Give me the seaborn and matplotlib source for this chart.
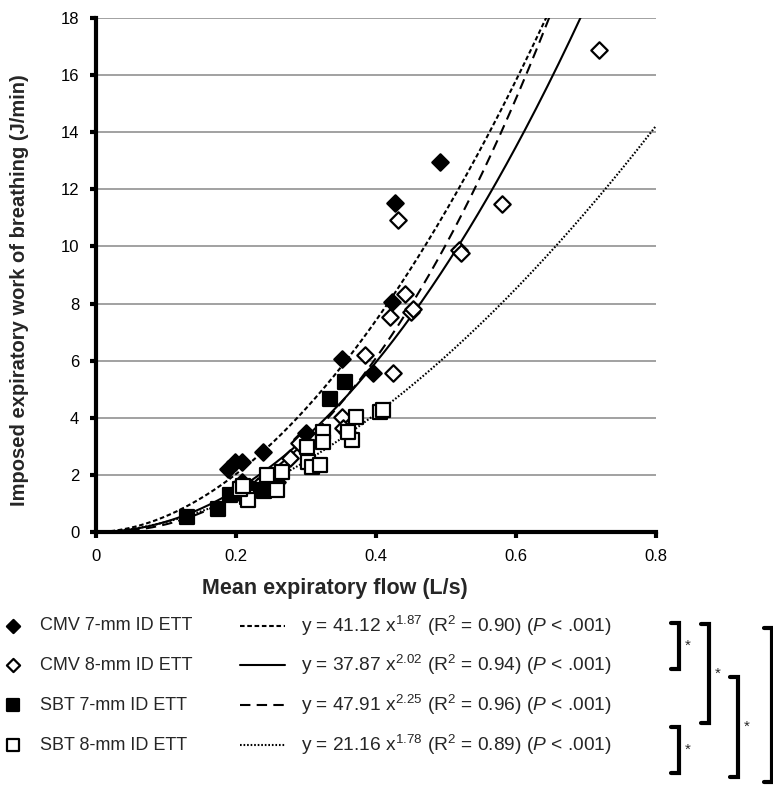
import numpy as np
import pandas as pd
import seaborn as sns
import matplotlib.pyplot as plt

# groups, in legend order
groups = ['CMV 7-mm ID ETT', 'CMV 8-mm ID ETT', 'SBT 7-mm ID ETT', 'SBT 8-mm ID ETT']

# measured points (mean expiratory flow L/s, imposed WOB J/min)
cmv7_x = [0.491, 0.427, 0.423, 0.396, 0.351, 0.300, 0.294, 0.239, 0.209, 0.199, 0.189, 0.209, 0.222, 0.258]
cmv7_y = [12.96, 11.52, 8.05, 5.57, 6.06, 3.45, 3.25, 2.80, 2.45, 2.45, 2.20, 1.75, 1.55, 1.75]

cmv8_x = [0.719, 0.580, 0.431, 0.519, 0.521, 0.441, 0.420, 0.450, 0.453, 0.384, 0.424,
          0.351, 0.353, 0.358, 0.277, 0.290, 0.245, 0.232, 0.205]
cmv8_y = [16.88, 11.48, 10.92, 9.87, 9.77, 8.33, 7.53, 7.72, 7.82, 6.20, 5.57,
          4.03, 3.64, 3.50, 2.59, 3.10, 1.95, 1.60, 1.35]

sbt7_x = [0.356, 0.334, 0.256, 0.227, 0.191, 0.205, 0.174, 0.130, 0.215, 0.250, 0.240]
sbt7_y = [5.25, 4.66, 1.71, 1.47, 1.30, 1.35, 0.80, 0.53, 1.50, 1.80, 1.45]

sbt8_x = [0.406, 0.410, 0.372, 0.366, 0.360, 0.324, 0.324, 0.301, 0.303, 0.309, 0.320,
          0.266, 0.244, 0.259, 0.216, 0.217, 0.205, 0.210]
sbt8_y = [4.20, 4.27, 4.03, 3.22, 3.50, 3.50, 3.15, 2.98, 2.45, 2.28, 2.35,
          2.10, 2.00, 1.47, 1.23, 1.12, 1.50, 1.60]

# power-law fits y = a * x^b
fit_a = [41.12, 37.87, 47.91, 21.16]
fit_b = [1.87, 2.02, 2.25, 1.78]
fit_r2 = ['0.90', '0.94', '0.96', '0.89']

markers = ['D', 'D', 's', 's']
filled = [True, False, True, False]
line_styles = [(0, (2.2, 1.3)), '-', (0, (5, 3)), (0, (0.8, 0.9))]

xs = [cmv7_x, cmv8_x, sbt7_x, sbt8_x]
ys = [cmv7_y, cmv8_y, sbt7_y, sbt8_y]

sns.set_theme(style='white')
plt.rcParams['font.family'] = ['Liberation Sans', 'DejaVu Sans']
plt.rcParams['mathtext.fontset'] = 'custom'
plt.rcParams['mathtext.rm'] = 'Liberation Sans'
plt.rcParams['mathtext.it'] = 'Liberation Sans:italic'

fig = plt.figure(figsize=(7.73, 7.85), dpi=100)
ax = fig.add_axes([0.1242, 0.3223, 0.7245, 0.6548])

xgrid = np.linspace(0.0, 0.8, 300)
for i, g in enumerate(groups):
    curve = pd.DataFrame({'x': xgrid, 'y': fit_a[i] * xgrid ** fit_b[i]})
    sns.lineplot(data=curve, x='x', y='y', ax=ax, color='black', lw=1.5,
                 linestyle=line_styles[i], zorder=3)

for i, g in enumerate(groups):
    df = pd.DataFrame({'x': xs[i], 'y': ys[i]})
    sz = 70 if markers[i] == 'D' else 95
    sns.scatterplot(data=df, x='x', y='y', ax=ax, marker=markers[i], s=sz,
                    color='black' if filled[i] else 'white', edgecolor='black',
                    linewidth=1.6, zorder=4)

ax.set_xlim(0, 0.8)
ax.set_ylim(0, 18)
ax.set_xticks([0, 0.2, 0.4, 0.6, 0.8])
ax.set_xticklabels(['0', '0.2', '0.4', '0.6', '0.8'])
ax.set_yticks(range(0, 19, 2))
ax.yaxis.grid(True, color='#9a9a9a', lw=1.3)
ax.xaxis.grid(False)
for s in ['top', 'right']:
    ax.spines[s].set_visible(False)
for s in ['left', 'bottom']:
    ax.spines[s].set_linewidth(3)
    ax.spines[s].set_color('black')
ax.tick_params(axis='both', which='major', direction='out', length=4, width=3,
               labelsize=12, colors='black', left=True, bottom=True)
ax.tick_params(axis='y', pad=8)
ax.tick_params(axis='x', pad=8)
ax.set_xlabel('Mean expiratory flow (L/s)', fontsize=15.5, fontweight='bold')
ax.xaxis.set_label_coords(0.427, -0.09)
ax.set_ylabel('Imposed expiratory work of breathing (J/min)', fontsize=14.5,
              fontweight='bold')
ax.yaxis.set_label_coords(-0.12, 0.47)

# legend panel with equations and significance brackets (pixel coordinates)
lg = fig.add_axes([0, 0, 1, 1], zorder=-1)
lg.set_xlim(0, 773)
lg.set_ylim(785, 0)
lg.axis('off')
row_y = [626, 665, 705, 745]
for i, g in enumerate(groups):
    y = row_y[i]
    lg.scatter([13], [y], marker=markers[i], s=45 if markers[i] == 'D' else 70,
               facecolor='black' if filled[i] else 'white', edgecolor='black', linewidth=1.6)
    lg.text(40, y, g, fontsize=13, va='center', ha='left')
    lg.plot([240, 285], [y, y], color='black', lw=1.5, linestyle=line_styles[i])
    eq = (f'y = {fit_a[i]:.2f} x$^{{{fit_b[i]:.2f}}}$ (R$^{{2}}$ = {fit_r2[i]}) '
          f'($P$ < .001)')
    lg.text(301, y, eq, fontsize=13.8, va='center', ha='left')

# brackets: (x of vertical, y top, y bottom, star?)
brackets = [(679, 623, 669, True), (709, 624, 723, True), (738, 677, 777, True),
            (679, 727, 773, True), (772, 628, 782, False)]
for bx, y0, y1, star in brackets:
    lg.plot([bx - 8, bx, bx, bx - 8], [y0, y0, y1, y1], color='black', lw=3,
            solid_joinstyle='miter')
    if star:
        lg.text(bx + 9, (y0 + y1) / 2, '*', fontsize=11, ha='center', va='center')

fig.savefig('out.png', dpi=100)
